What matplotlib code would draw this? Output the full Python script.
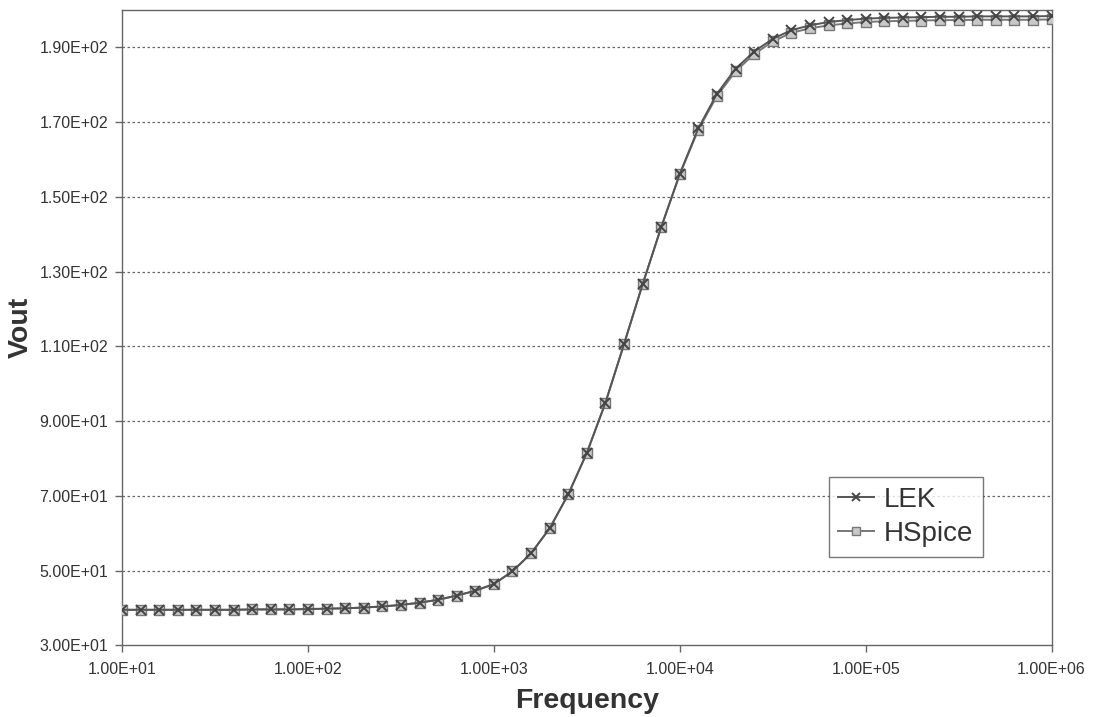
import numpy as np
import matplotlib
matplotlib.use("Agg")
import matplotlib.pyplot as plt
from matplotlib.ticker import FuncFormatter, FixedLocator, NullLocator

plt.rcParams['font.family'] = ['Liberation Sans', 'DejaVu Sans']

# 10 points per decade, 1e1 .. 1e6
freq_exponent = [1 + k / 10 for k in range(51)]
frequency = [10 ** e for e in freq_exponent]

lek = [39.5, 39.5, 39.5, 39.5, 39.5, 39.5, 39.5, 39.6, 39.6, 39.6,
       39.7, 39.8, 39.9, 40.1, 40.4, 40.8, 41.4, 42.2, 43.3, 44.6,
       46.4, 49.8, 54.6, 61.3, 70.4, 81.5, 94.9, 110.6, 126.6, 141.9,
       156.2, 168.4, 177.6, 184.3, 188.9, 192.3, 194.6, 195.9, 196.8, 197.3,
       197.7, 197.9, 198.0, 198.1, 198.2, 198.2, 198.3, 198.3, 198.3, 198.3,
       198.4]
hspice = [39.5, 39.5, 39.5, 39.5, 39.5, 39.5, 39.5, 39.6, 39.6, 39.6,
          39.7, 39.8, 39.9, 40.1, 40.4, 40.8, 41.4, 42.2, 43.3, 44.6,
          46.4, 49.8, 54.6, 61.3, 70.4, 81.5, 94.9, 110.6, 126.6, 141.9,
          156.0, 168.0, 177.0, 183.6, 188.2, 191.6, 193.9, 195.1, 195.9, 196.4,
          196.8, 197.0, 197.1, 197.2, 197.3, 197.3, 197.4, 197.4, 197.4, 197.4,
          197.5]

y_ticks = [30, 50, 70, 90, 110, 130, 150, 170, 190]
x_ticks = [1e1, 1e2, 1e3, 1e4, 1e5, 1e6]

fig = plt.figure(figsize=(11, 7.17), dpi=100)
ax = fig.add_axes([0.111, 0.100, 0.845, 0.886])

ax.plot(frequency, hspice, color='#777777', lw=1.4, marker='s', ms=6.5,
        mfc='#c8c8c8', mec='#777777', mew=1.0, label='HSpice', zorder=3)
ax.plot(frequency, lek, color='#555555', lw=1.4, marker='x', ms=6.5,
        mec='#444444', mew=1.4, label='LEK', zorder=4)

ax.set_xscale('log')
ax.set_xlim(1e1, 1e6)
ax.set_ylim(30, 200)
ax.xaxis.set_major_locator(FixedLocator(x_ticks))
ax.xaxis.set_minor_locator(NullLocator())
ax.yaxis.set_major_locator(FixedLocator(y_ticks))
fmt = FuncFormatter(lambda v, p: f"{v:.2E}")
ax.xaxis.set_major_formatter(fmt)
ax.yaxis.set_major_formatter(fmt)

for yv in y_ticks[1:]:
    ax.axhline(yv, color='#666666', lw=0.9, ls=(0, (2, 2)), zorder=1)

for s in ax.spines.values():
    s.set_color('#666666')
    s.set_linewidth(1.0)

ax.tick_params(axis='both', direction='out', length=5, width=1.0,
               color='#666666', labelsize=11.5, labelcolor='#333333', pad=5)
ax.tick_params(axis='x', pad=7)

ax.set_xlabel('Frequency', fontsize=20.5, fontweight='bold', color='#333333', labelpad=8)
ax.set_ylabel('Vout', fontsize=20.5, fontweight='bold', color='#333333', labelpad=4)

handles, labels = ax.get_legend_handles_labels()
order = [1, 0]
leg = ax.legend([handles[i] for i in order], [labels[i] for i in order],
                loc='upper left', bbox_to_anchor=(0.760, 0.265),
                fontsize=20, frameon=True, fancybox=False,
                handlelength=1.3, handletextpad=0.35, borderpad=0.35,
                labelspacing=0.3, borderaxespad=0.0, markerscale=0.8)
leg.get_frame().set_edgecolor('#555555')
leg.get_frame().set_linewidth(1.0)
for t in leg.get_texts():
    t.set_color('#333333')

fig.savefig('out.png', dpi=100, facecolor='white')
